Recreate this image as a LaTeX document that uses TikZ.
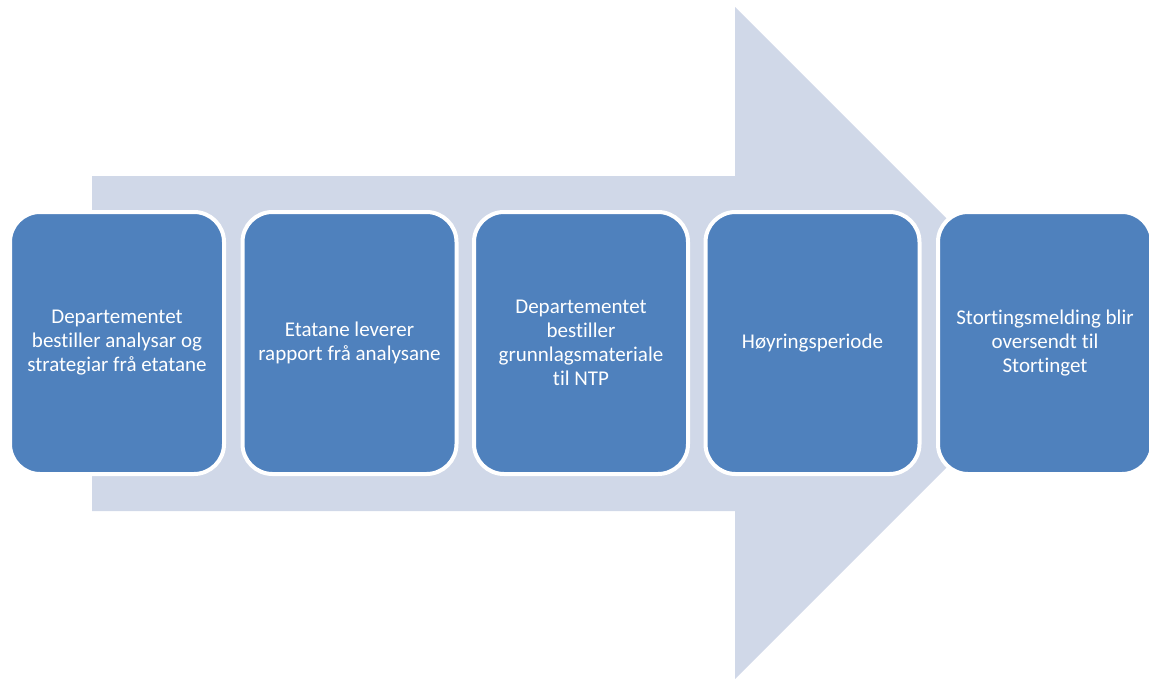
\documentclass[tikz,border=0pt]{standalone}
\usepackage{fontspec}
\setmainfont{Carlito}[Ligatures={NoCommon}]
\definecolor{boxblue}{HTML}{4F81BD}
\definecolor{arrowgrey}{HTML}{D0D8E8}
\begin{document}
\begin{tikzpicture}[x=1pt,y=-1pt,
  stepbox/.style={draw=white, line width=4pt, fill=boxblue, rounded corners=30pt,
    minimum width=214pt, minimum height=262pt, inner sep=0pt, text=white,
    align=center, font=\fontsize{21}{24}\selectfont}]
\useasboundingbox (0,0) rectangle (1149,678);
\clip (0,0) rectangle (1149,678);
\fill[arrowgrey] (92,176) -- (735,176) -- (735,7) -- (1071,343) -- (735,679) -- (735,511) -- (92,511) -- cycle;
\node[stepbox] (b1) at (117,343) {Departementet\\bestiller analysar og\\strategiar frå etatane};
\node[stepbox] (b2) at (349.5,343) {Etatane leverer\\rapport frå analysane};
\node[stepbox] (b3) at (581,343) {Departementet\\bestiller\\grunnlagsmateriale\\til NTP};
\node[stepbox] (b4) at (812.5,343) {Høyringsperiode};
\node[stepbox] (b5) at (1045,343) {Stortingsmelding blir\\oversendt til\\Stortinget};
\end{tikzpicture}
\end{document}
